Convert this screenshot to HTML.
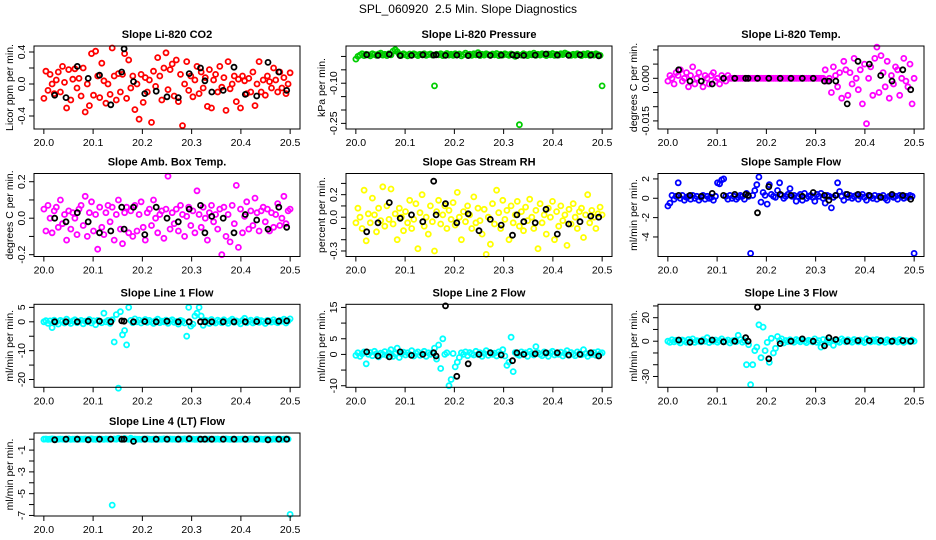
<!DOCTYPE html>
<html><head><meta charset="utf-8">
<style>
html,body{margin:0;padding:0;background:#fff;}
svg{display:block;font-family:"Liberation Sans",Arial,sans-serif;}
</style></head>
<body>
<svg id="chart" width="936" height="540" viewBox="0 0 936 540">
<text x="468" y="13" text-anchor="middle" font-size="12">SPL_060920&#160; 2.5 Min. Slope Diagnostics</text>
</svg>
<script>
// ---- shared x data ----
const xStart = 20.0;
const xEnd = 20.5;
const xTicks = [20.0, 20.1, 20.2, 20.3, 20.4, 20.5];
const xTickLabels = ["20.0", "20.1", "20.2", "20.3", "20.4", "20.5"];
const blackX = [20.022,20.045,20.068,20.09,20.113,20.136,20.158,20.163,20.182,20.205,20.228,20.25,20.273,20.295,20.318,20.327,20.341,20.364,20.386,20.409,20.432,20.455,20.477,20.493];

// ---- series values ----
const co2Vals = [-0.18,0.16,-0.08,0.12,0.0,-0.12,0.05,0.15,-0.1,0.22,0.02,-0.3,0.18,-0.2,0.06,0.19,-0.05,0.07,-0.15,0.2,-0.35,0.0,-0.27,0.38,-0.14,0.41,0.1,-0.17,0.26,0.04,-0.24,0.0,-0.13,0.45,0.1,-0.2,0.13,-0.1,0.12,0.38,-0.18,0.3,-0.05,0.1,-0.32,0.0,-0.44,0.12,-0.23,0.08,-0.1,0.05,-0.48,0.16,-0.03,0.33,0.1,-0.2,0.2,0.39,-0.07,0.18,0.25,-0.15,0.3,-0.22,0.12,-0.52,0.0,0.28,-0.08,0.1,-0.16,0.05,0.22,-0.12,0.15,-0.05,0.08,-0.28,0.18,-0.3,0.05,0.12,-0.1,0.22,-0.04,0.08,-0.33,0.28,-0.06,0.0,0.1,-0.22,0.06,-0.3,0.1,0.04,-0.12,0.07,-0.1,0.15,-0.27,0.0,0.28,-0.1,0.05,-0.14,0.1,0.03,-0.05,0.2,0.05,-0.1,0.15,-0.05,0.08,-0.12,0.0,0.14];
const co2Black = [-0.14,-0.17,0.22,0.07,0.11,-0.26,0.15,0.44,0.03,-0.12,-0.09,-0.16,-0.17,0.13,0.2,0.04,-0.1,-0.08,0.21,-0.13,-0.15,0.27,0.15,-0.08];

const presVals = [-0.01,0.0,0.005,0.01,0.003,0.008,0.006,0.002,0.01,0.007,0.004,0.009,0.012,0.005,0.008,0.003,0.01,0.006,0.02,0.025,0.018,0.008,0.004,0.01,0.006,0.002,0.009,0.005,0.01,0.007,0.003,0.008,0.006,0.01,0.004,0.007,0.009,0.005,-0.11,0.008,0.006,0.01,0.003,0.007,0.011,0.005,0.008,0.004,0.01,0.006,0.009,0.002,0.007,0.012,0.005,0.008,0.004,0.01,0.006,0.014,0.003,0.008,0.005,0.01,0.007,0.004,0.009,0.006,0.011,0.003,0.008,0.005,0.01,0.007,0.004,0.009,0.006,0.0,0.008,-0.255,0.005,0.01,0.007,0.003,0.009,0.006,0.012,0.004,0.008,0.005,0.01,0.007,0.003,0.009,0.006,0.011,0.004,0.008,0.005,0.01,0.007,0.013,0.009,0.006,0.004,0.008,0.005,0.01,0.007,0.003,0.009,0.006,0.011,0.004,0.008,0.005,0.01,0.007,0.004,-0.11];
const presBlack = [0.006,0.004,0.008,0.003,0.004,0.006,0.005,0.006,0.004,0.005,0.003,0.006,0.004,0.005,0.006,0.003,0.004,0.005,0.009,0.005,0.004,0.006,0.005,0.002];

const tempVals = [-0.001,0.001,0.0,-0.002,0.002,0.001,0.003,-0.001,0.0,0.002,-0.003,0.001,0.004,-0.002,0.0,0.002,-0.001,-0.003,0.001,0.0,-0.002,0.001,0.002,-0.001,0.0,-0.002,0.001,0.0,-0.001,0.001,0.0,0.0,0.0,0.0,0.0,0.0,0.0,0.0,0.0,0.0,0.0,0.0,0.0,0.0,0.0,0.0,0.0,0.0,0.0,0.0,0.0,0.0,0.0,0.0,0.0,0.0,0.0,0.0,0.0,0.0,0.0,0.0,0.0,0.0,0.0,0.0,0.0,0.0,0.0,0.0,0.0,0.0,0.0,0.0,0.0,0.0,0.003,-0.001,0.0,-0.005,0.004,0.001,-0.003,0.002,-0.007,0.006,0.003,-0.006,0.002,-0.002,0.007,0.0,-0.004,0.003,-0.009,0.005,-0.016,0.0,0.004,-0.006,0.007,0.011,-0.005,0.008,0.002,-0.003,0.006,-0.007,0.001,-0.002,0.004,0.003,-0.006,0.0,0.007,-0.001,-0.003,0.005,-0.009,0.0];
const tempBlack = [0.003,-0.001,-0.001,-0.002,0.0,0.0,0.0,0.0,0.0,0.0,0.0,0.0,0.0,0.0,-0.001,-0.001,-0.001,-0.009,0.006,0.005,0.001,-0.001,0.003,-0.004];

const ambVals = [0.05,-0.07,0.07,0.0,-0.08,0.04,0.06,-0.05,0.1,-0.03,0.02,-0.12,0.04,-0.06,0.03,0.0,-0.09,0.05,0.07,-0.04,0.12,-0.1,0.03,0.09,-0.07,0.02,-0.17,0.06,-0.05,-0.09,0.03,0.07,-0.02,0.06,-0.12,0.02,0.1,-0.06,-0.14,0.03,0.06,-0.08,0.04,-0.1,0.07,-0.07,0.02,0.09,-0.05,-0.12,0.03,0.05,-0.04,0.1,0.0,-0.08,0.02,0.04,-0.11,0.05,0.23,-0.06,0.03,-0.03,0.05,-0.07,0.07,0.02,-0.1,0.01,0.06,-0.04,0.04,-0.08,0.15,0.02,-0.05,0.06,0.0,-0.12,0.03,0.07,-0.02,0.02,-0.06,0.05,-0.2,0.06,-0.1,0.02,-0.13,0.07,-0.03,0.18,-0.16,0.05,-0.08,0.01,0.09,-0.06,0.04,-0.04,0.11,0.03,-0.07,0.04,0.06,-0.02,0.05,-0.07,0.03,-0.05,0.02,0.08,-0.04,0.0,0.12,-0.03,0.04,0.05];
const ambBlack = [0.0,-0.02,0.03,-0.02,-0.08,-0.07,0.06,-0.06,0.06,-0.09,0.06,0.0,-0.02,0.05,0.07,-0.08,0.01,0.0,-0.08,0.02,-0.01,-0.06,0.06,-0.05];

const rhVals = [-0.05,0.08,0.0,-0.1,0.24,-0.21,0.03,-0.05,0.17,0.02,-0.13,0.08,-0.03,0.27,-0.08,0.1,-0.02,0.25,-0.06,0.03,-0.2,0.08,0.0,-0.12,0.05,-0.05,0.15,-0.1,-0.02,0.12,-0.28,0.04,0.2,-0.08,0.0,-0.15,0.1,-0.04,-0.3,0.05,0.15,-0.06,0.02,0.1,-0.1,0.06,-0.02,0.13,-0.07,0.22,0.0,-0.2,0.05,-0.04,0.1,0.02,-0.1,0.18,-0.05,0.08,-0.03,-0.15,0.07,-0.33,0.0,-0.24,0.12,-0.06,0.24,0.04,-0.1,0.15,-0.02,0.06,-0.2,0.1,-0.05,0.02,0.14,-0.08,0.05,-0.12,0.09,-0.03,0.16,0.0,-0.1,0.06,-0.28,0.12,-0.05,0.02,-0.15,0.08,0.0,0.14,-0.2,0.05,-0.08,0.1,-0.03,0.02,-0.25,0.07,-0.06,0.12,0.0,-0.1,0.05,0.08,-0.18,0.02,0.2,-0.05,0.06,0.0,-0.1,0.03,0.09,0.02];
const rhBlack = [-0.13,-0.05,0.13,-0.01,0.02,-0.04,0.32,0.02,0.12,-0.05,0.03,-0.12,-0.02,-0.07,-0.16,0.02,-0.04,-0.05,0.07,-0.15,-0.06,-0.04,0.01,0.0];

const sampleVals = [-0.8,-0.5,0.3,-0.1,0.2,1.6,0.0,0.3,-0.2,0.1,0.2,-0.1,0.3,0.0,0.2,-0.2,0.1,0.3,-0.1,0.2,0.0,0.1,-0.2,0.2,1.6,1.5,1.9,2.0,0.2,-0.1,0.3,0.0,0.2,-0.1,0.1,0.3,0.2,-0.1,0.5,0.2,-5.7,0.3,0.8,1.4,2.2,-0.4,0.6,0.3,-0.6,1.4,0.4,0.2,0.1,0.8,1.6,0.3,0.0,0.2,0.4,1.0,0.2,0.3,-0.3,0.2,0.4,-0.2,0.5,0.0,0.2,0.3,0.1,-0.3,0.4,0.2,0.5,0.0,-0.5,0.3,0.2,-1.0,0.1,0.3,1.6,0.7,0.2,-0.2,0.4,0.1,0.3,0.0,0.2,0.3,-0.1,0.2,0.4,0.1,-0.2,0.3,0.2,0.0,0.3,-0.1,0.2,0.1,0.3,0.0,-0.2,0.2,0.3,0.1,0.2,-0.1,0.3,0.2,0.0,0.2,0.1,0.3,0.2,-5.7];
const sampleBlack = [0.3,0.3,0.2,0.5,0.3,0.4,0.4,0.3,-1.5,1.2,0.4,0.3,0.2,0.6,0.3,-0.2,0.3,0.4,0.4,0.3,0.1,0.4,0.3,-0.1];

const line1Vals = [0.0,0.4,-0.5,0.3,-2.0,0.6,0.0,-0.8,0.5,0.2,-0.4,0.9,0.0,-0.6,0.3,0.7,-0.3,0.1,0.5,-0.7,0.2,0.0,0.8,-0.4,0.3,-1.0,0.5,0.2,-0.3,3.0,0.0,0.5,-0.5,0.7,-7.0,2.5,-23.0,3.5,-4.5,-3.0,-8.0,5.0,0.5,-0.3,1.0,0.0,0.6,-0.4,0.3,0.8,-0.2,0.5,0.0,-0.6,0.4,0.9,-0.3,0.2,0.0,0.6,-0.5,0.3,0.7,-0.2,0.1,-0.8,0.5,0.2,-0.4,-5.0,5.0,-1.5,-0.8,2.0,3.0,5.0,2.0,-1.2,0.5,0.3,-0.6,0.8,0.0,-0.4,0.6,0.2,-0.3,0.7,0.1,-0.5,0.4,0.9,-0.2,0.3,0.0,-0.7,0.5,1.2,-0.3,0.2,0.6,-0.4,0.0,0.8,-0.2,0.4,0.1,-0.6,0.5,0.3,-0.1,0.7,0.0,-0.3,0.5,0.2,0.9,-0.4,0.3,1.0];
const line1Black = [0.0,0.0,0.0,0.2,0.2,0.0,0.3,0.2,0.0,0.1,0.0,0.2,0.0,0.0,0.0,0.0,0.0,0.0,0.0,0.0,0.1,0.2,0.2,0.3];

const line2Vals = [-0.3,0.5,-0.6,0.2,0.8,-3.0,0.0,0.6,-0.4,1.0,0.2,-0.8,0.4,0.0,0.9,-0.3,0.5,1.5,-0.6,0.2,2.0,-1.0,0.3,0.7,-0.2,0.5,0.0,1.2,-0.5,0.4,0.8,-0.3,0.2,1.0,-0.6,0.5,0.0,0.6,2.0,-1.5,3.0,-4.5,5.0,0.0,0.5,-10.0,-8.0,0.3,-4.0,-2.5,-1.0,0.5,0.0,0.8,-0.4,0.6,0.2,-0.2,1.0,0.0,0.5,-0.6,0.3,1.2,-0.3,0.6,0.0,0.4,-0.5,0.8,0.2,1.5,-0.5,-3.5,-2.5,5.5,-5.5,0.6,0.0,-0.3,0.8,0.2,0.5,-0.6,1.0,0.3,-0.2,2.5,0.5,0.0,-0.4,0.8,0.3,-0.6,0.5,1.0,-0.2,0.4,0.0,0.7,-0.5,0.3,1.2,-0.3,0.6,0.1,-0.4,0.8,0.2,-0.1,1.5,0.3,-0.6,0.4,0.0,0.6,-0.3,0.9,0.2,0.5];
const line2Black = [0.8,-0.5,-0.8,0.8,-0.3,0.0,0.5,-0.5,15.5,-7.0,-3.0,0.0,0.5,-0.2,-2.0,0.5,0.0,0.2,0.5,0.5,-0.2,0.0,0.5,-0.5];

const line3Vals = [0.0,-1.0,1.2,-0.5,0.8,0.0,-1.5,1.0,0.3,-0.8,1.5,0.0,2.0,-1.0,0.5,0.0,-0.6,1.2,0.0,3.0,-1.2,0.6,0.0,1.0,-0.8,0.4,2.0,-0.5,0.0,1.0,-1.5,0.3,0.8,-0.4,5.0,1.5,-0.8,0.5,-20.0,-3.0,-37.0,-20.0,-8.0,-5.0,14.0,-14.0,12.0,-8.0,-1.0,-18.0,2.5,-10.0,-6.0,4.0,0.5,2.0,-1.5,0.6,-0.3,1.2,0.0,-0.8,1.5,0.4,-0.6,1.0,0.0,-1.2,0.8,0.2,-0.5,2.0,-1.0,0.4,-5.0,1.5,-2.0,0.6,-1.0,0.3,-3.5,0.8,0.0,-1.0,2.0,0.5,-0.6,1.2,0.0,-0.8,1.5,0.3,-0.5,1.0,0.0,-1.2,2.0,0.4,-0.6,1.0,0.0,1.5,-0.8,0.6,0.2,-1.0,1.2,0.0,-0.5,0.8,0.3,-0.7,1.5,0.0,-1.0,0.6,0.2,-0.4,1.0,0.0];
const line3Black = [1.0,-1.0,0.0,1.0,-0.5,0.0,3.0,0.0,29.0,-15.0,-2.0,0.0,2.0,0.0,-4.0,3.0,1.5,0.0,0.5,0.5,0.5,0.0,0.5,0.0];

const line4Vals = [0.0,0.02,-0.01,0.0,0.03,0.01,-0.02,0.0,0.02,0.01,-0.01,0.0,0.03,-0.02,0.01,0.0,0.02,-0.01,0.01,0.0,0.02,-0.02,0.01,0.03,0.0,-0.01,0.02,0.0,0.01,-0.02,0.02,0.0,0.01,-6.05,0.02,0.0,0.08,0.01,-0.01,0.07,0.02,0.0,0.09,-0.01,0.02,0.0,0.01,-0.02,0.02,0.0,0.03,0.01,-0.01,0.0,0.02,-0.02,0.01,0.0,0.03,0.01,-0.01,0.02,0.0,0.01,-0.02,0.02,0.0,0.01,0.03,-0.01,0.0,0.02,0.01,-0.02,0.0,0.02,0.01,-0.01,0.03,0.0,0.02,-0.01,0.01,0.0,0.02,-0.02,0.01,0.0,0.03,0.01,-0.01,0.0,0.02,-0.02,0.01,0.0,0.02,0.01,-0.01,0.0,0.03,0.01,-0.02,0.0,0.02,0.01,-0.01,0.02,0.0,0.01,-0.02,0.02,0.0,0.01,0.02,-0.01,0.0,0.02,0.01,-6.9];
const line4Black = [-0.05,0.0,0.0,-0.05,0.0,0.0,0.0,0.0,-0.2,0.0,0.0,0.0,0.0,0.05,0.0,0.0,0.0,0.0,0.0,0.0,0.0,-0.05,0.0,0.0];

// ---- y tick values / labels ----
const co2Ticks = [-0.4,-0.2,0.0,0.2,0.4];
const co2Labels = ["-0.4","","0.0","","0.4"];
const presTicks = [-0.25,-0.2,-0.15,-0.1,-0.05,0.0];
const presLabels = ["-0.25","","","-0.10","",""];
const tempTicks = [-0.015,-0.01,-0.005,0.0,0.005,0.01];
const tempLabels = ["-0.015","","","0.000","",""];
const ambTicks = [-0.2,-0.1,0.0,0.1,0.2];
const ambLabels = ["-0.2","","0.0","","0.2"];
const rhTicks = [-0.3,-0.2,-0.1,0.0,0.1,0.2,0.3];
const rhLabels = ["-0.3","","","0.0","","0.2",""];
const sampleTicks = [-4,-2,0,2];
const sampleLabels = ["-4","-2","0","2"];
const line1Ticks = [-20,-15,-10,-5,0,5];
const line1Labels = ["-20","","-10","","0","5"];
const line2Ticks = [-10,-5,0,5,10,15];
const line2Labels = ["-10","","0","5","","15"];
const line3Ticks = [-30,-20,-10,0,10,20,30];
const line3Labels = ["-30","","","0","","20",""];
const line4Ticks = [-7,-6,-5,-4,-3,-2,-1,0];
const line4Labels = ["-7","","-5","","-3","","-1",""];

const panels = [
 {name:"co2", title:"Slope Li-820 CO2", ylab:"Licor ppm per min.", col:0,row:0, ymin:-0.5625,ymax:0.475, vals:co2Vals, black:co2Black, color:"#ff0000", ticks:co2Ticks, labels:co2Labels},
 {name:"pressure", title:"Slope Li-820 Pressure", ylab:"kPa per min.", col:1,row:0, ymin:-0.271,ymax:0.039, vals:presVals, black:presBlack, color:"#00cd00", ticks:presTicks, labels:presLabels},
 {name:"li820-temp", title:"Slope Li-820 Temp.", ylab:"degrees C per min.", col:2,row:0, ymin:-0.01785,ymax:0.01137, vals:tempVals, black:tempBlack, color:"#ff00ff", ticks:tempTicks, labels:tempLabels},
 {name:"amb-box-temp", title:"Slope Amb. Box Temp.", ylab:"degrees C per min.", col:0,row:1, ymin:-0.21,ymax:0.245, vals:ambVals, black:ambBlack, color:"#ff00ff", ticks:ambTicks, labels:ambLabels},
 {name:"gas-stream-rh", title:"Slope Gas Stream RH", ylab:"percent per min.", col:1,row:1, ymin:-0.349,ymax:0.388, vals:rhVals, black:rhBlack, color:"#ffff00", ticks:rhTicks, labels:rhLabels},
 {name:"sample-flow", title:"Slope Sample Flow", ylab:"ml/min per min.", col:2,row:1, ymin:-6.02,ymax:2.56, vals:sampleVals, black:sampleBlack, color:"#0000ff", ticks:sampleTicks, labels:sampleLabels},
 {name:"line1-flow", title:"Slope Line 1 Flow", ylab:"ml/min per min.", col:0,row:2, ymin:-22.7,ymax:6.07, vals:line1Vals, black:line1Black, color:"#00ffff", ticks:line1Ticks, labels:line1Labels},
 {name:"line2-flow", title:"Slope Line 2 Flow", ylab:"ml/min per min.", col:1,row:2, ymin:-10.5,ymax:16.0, vals:line2Vals, black:line2Black, color:"#00ffff", ticks:line2Ticks, labels:line2Labels},
 {name:"line3-flow", title:"Slope Line 3 Flow", ylab:"ml/min per min.", col:2,row:2, ymin:-39.2,ymax:31.4, vals:line3Vals, black:line3Black, color:"#00ffff", ticks:line3Ticks, labels:line3Labels},
 {name:"line4-flow", title:"Slope Line 4 (LT) Flow", ylab:"ml/min per min.", col:0,row:3, ymin:-7.05,ymax:0.57, vals:line4Vals, black:line4Black, color:"#00ffff", ticks:line4Ticks, labels:line4Labels}
];

const NS = "http://www.w3.org/2000/svg";
const svg = document.getElementById("chart");
const colLeft = [34, 346, 658];
const rowTop = [46, 173.5, 304.3, 433];
const boxW = 266, boxH = 83;

function mk(tag, attrs, parent) {
  const e = document.createElementNS(NS, tag);
  for (const k in attrs) e.setAttribute(k, attrs[k]);
  parent.appendChild(e);
  return e;
}

panels.forEach(p => {
  const L = colLeft[p.col], T = rowTop[p.row];
  const xMin = xStart - 0.04 * (xEnd - xStart), xMax = xEnd + 0.04 * (xEnd - xStart);
  const xs = v => L + (v - xMin) / (xMax - xMin) * boxW;
  const ys = v => T + boxH - (v - p.ymin) / (p.ymax - p.ymin) * boxH;

  const g = mk("g", {}, svg);
  
  

  const title = mk("text", {x: L + boxW / 2, y: T - 8, "text-anchor": "middle", "font-size": "11", "font-weight": "bold"}, g);
  title.textContent = p.title;
  
  

  const pts = mk("g", {fill: "none", stroke: p.color, "stroke-width": "1.8"}, g);
  
  
  const n = p.vals.length;
  p.vals.forEach((v, i) => {
    const xv = xStart + i * (xEnd - xStart) / (n - 1);
    const c = mk("circle", {cx: xs(xv).toFixed(1), cy: ys(v).toFixed(1), r: "2.5"}, pts);
    
    
  });
  const bpts = mk("g", {fill: "none", stroke: "#000", "stroke-width": "1.8"}, g);
  
  
  p.black.forEach((v, i) => {
    const c = mk("circle", {cx: xs(blackX[i]).toFixed(1), cy: ys(v).toFixed(1), r: "2.5"}, bpts);
    
    
  });

  const box = mk("rect", {x: L, y: T, width: boxW, height: boxH, fill: "none", stroke: "#000", "stroke-width": "1"}, g);
  
  

  const xa = mk("g", {stroke: "#000", "stroke-width": "1"}, g);
  
  
  const b = T + boxH;
  xTicks.forEach((t, i) => {
    mk("line", {x1: xs(t), x2: xs(t), y1: b, y2: b + 5}, xa);
    const tx = mk("text", {x: xs(t), y: b + 17, "text-anchor": "middle", "font-size": "10.5", stroke: "none", fill: "#000"}, xa);
    tx.textContent = xTickLabels[i];
    
    
  });

  const ya = mk("g", {stroke: "#000", "stroke-width": "1"}, g);
  
  
  p.ticks.forEach((t, i) => {
    const y = ys(t);
    mk("line", {x1: L - 5, x2: L, y1: y, y2: y}, ya);
    if (p.labels[i]) {
      const tx = mk("text", {x: 0, y: 0, "text-anchor": "middle", "font-size": "10.5", stroke: "none", fill: "#000",
        transform: `translate(${L - 9},${y}) rotate(-90)`}, ya);
      tx.textContent = p.labels[i];
      
      
    }
  });
  const yl = mk("text", {x: 0, y: 0, "text-anchor": "middle", "font-size": "10.5", fill: "#000",
    transform: `translate(${L - 21},${T + boxH / 2}) rotate(-90)`}, g);
  yl.textContent = p.ylab;
  
  
});
</script>
</body></html>
